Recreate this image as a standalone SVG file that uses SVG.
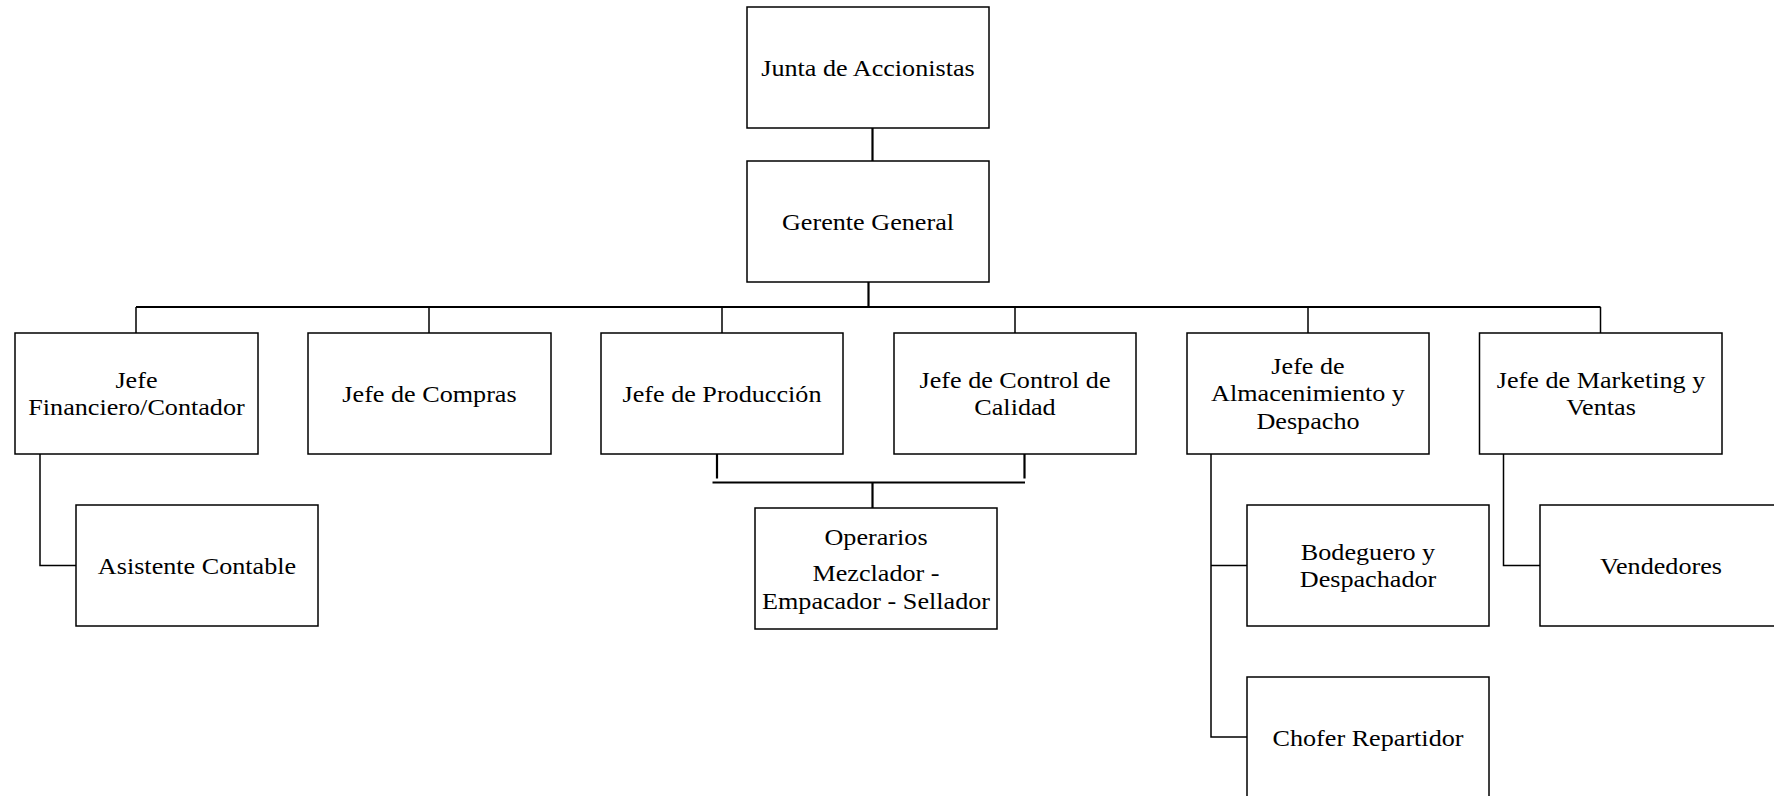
<svg xmlns="http://www.w3.org/2000/svg" width="1774" height="796" viewBox="0 0 1774 796">
<style>
  .box { fill: #ffffff; stroke: #000000; stroke-width: 1.5; }
  .lbl { font-family: "Liberation Serif", "Times New Roman", serif; font-size: 24px; fill: #000000; text-anchor: middle; }
  .ln { fill: none; stroke: #000000; stroke-width: 1.5; }
  .thick { fill: none; stroke: #000000; stroke-width: 2.2; }
</style>
<rect x="0" y="0" width="1774" height="796" fill="#ffffff"/>
<g id="connectors">
  <path class="thick" d="M872.5,128 V161"/>
  <path class="thick" d="M868.5,282 V307"/>
  <path class="thick" d="M136,307 H1600.5"/>
  <path class="ln" d="M136,307 V333 M429,307 V333 M722,307 V333 M1015,307 V333 M1308,307 V333 M1600.5,307 V333"/>
  <path class="ln" d="M40,454 V565.5 H76"/>
  <path class="thick" d="M717,450 V478.5 M1024.5,450 V478.5"/>
  <path class="thick" d="M712.5,482.5 H1025"/>
  <path class="thick" d="M872.5,482.5 V508"/>
  <path class="ln" d="M1211,454 V737 H1247 M1211,565.5 H1247"/>
  <path class="ln" d="M1503.5,454 V565.5 H1540"/>
</g>
<g id="junta">
  <rect class="box" x="747" y="7" width="242" height="121"/>
  <text class="lbl" transform="matrix(1.09 0 0 1 868 76)">Junta de Accionistas</text>
</g>
<g id="gerente">
  <rect class="box" x="747" y="161" width="242" height="121"/>
  <text class="lbl" transform="matrix(1.09 0 0 1 868 230)">Gerente General</text>
</g>
<g id="financiero">
  <rect class="box" x="15" y="333" width="243" height="121"/>
  <text class="lbl" transform="matrix(1.09 0 0 1 136.5 387.7)"><tspan x="0" y="0">Jefe</tspan><tspan x="0" y="27.6">Financiero/Contador</tspan></text>
</g>
<g id="compras">
  <rect class="box" x="308" y="333" width="243" height="121"/>
  <text class="lbl" transform="matrix(1.09 0 0 1 429.5 401.5)">Jefe de Compras</text>
</g>
<g id="produccion">
  <rect class="box" x="601" y="333" width="242" height="121"/>
  <text class="lbl" transform="matrix(1.09 0 0 1 722 401.5)">Jefe de Producción</text>
</g>
<g id="calidad">
  <rect class="box" x="894" y="333" width="242" height="121"/>
  <text class="lbl" transform="matrix(1.09 0 0 1 1015 387.7)"><tspan x="0" y="0">Jefe de Control de</tspan><tspan x="0" y="27.6">Calidad</tspan></text>
</g>
<g id="almacenamiento">
  <rect class="box" x="1187" y="333" width="242" height="121"/>
  <text class="lbl" transform="matrix(1.09 0 0 1 1308 373.9)"><tspan x="0" y="0">Jefe de</tspan><tspan x="0" y="27.6">Almacenimiento y</tspan><tspan x="0" y="55.2">Despacho</tspan></text>
</g>
<g id="marketing">
  <rect class="box" x="1479.5" y="333" width="242.5" height="121"/>
  <text class="lbl" transform="matrix(1.09 0 0 1 1601 387.7)"><tspan x="0" y="0">Jefe de Marketing y</tspan><tspan x="0" y="27.6">Ventas</tspan></text>
</g>
<g id="asistente">
  <rect class="box" x="76" y="505" width="242" height="121"/>
  <text class="lbl" transform="matrix(1.09 0 0 1 197 573.5)">Asistente Contable</text>
</g>
<g id="operarios">
  <rect class="box" x="755" y="508" width="242" height="121"/>
  <text class="lbl" transform="matrix(1.09 0 0 1 876 545)"><tspan x="0" y="0">Operarios</tspan><tspan x="0" y="36.5">Mezclador -</tspan><tspan x="0" y="64">Empacador - Sellador</tspan></text>
</g>
<g id="bodeguero">
  <rect class="box" x="1247" y="505" width="242" height="121"/>
  <text class="lbl" transform="matrix(1.09 0 0 1 1368 559.7)"><tspan x="0" y="0">Bodeguero y</tspan><tspan x="0" y="27.6">Despachador</tspan></text>
</g>
<g id="chofer">
  <rect class="box" x="1247" y="677" width="242" height="150"/>
  <text class="lbl" transform="matrix(1.09 0 0 1 1368 745.5)">Chofer Repartidor</text>
</g>
<g id="vendedores">
  <rect class="box" x="1540" y="505" width="242" height="121"/>
  <text class="lbl" transform="matrix(1.09 0 0 1 1661 573.5)">Vendedores</text>
</g>
</svg>
